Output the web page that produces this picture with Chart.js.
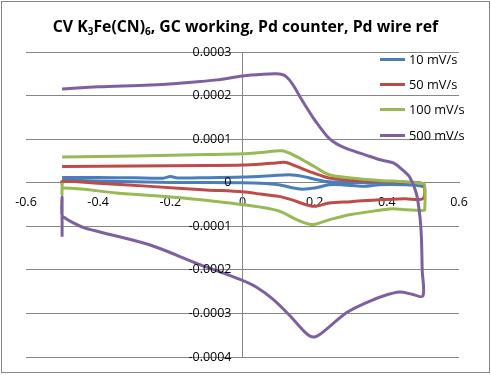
<!DOCTYPE html>
<html>
<head>
<meta charset="utf-8">
<script src="https://cdn.jsdelivr.net/npm/chart.js@4"></script>
<style>
  html, body { margin: 0; padding: 0; background: #fff; }
  #wrap { position: relative; width: 491px; height: 375px; }
  #title {
    position: absolute; left: 0; top: 15px; width: 491px; text-align: center;
    font: bold 15.8px "Open Sans", sans-serif; color: #000; white-space: nowrap;
  }
  #title sub { font-size: 10px; vertical-align: -3px; line-height: 0; }
  #legend { position: absolute; left: 380px; top: 50px; font: 12.8px "Open Sans", sans-serif; color: #000; }
  .item { position: absolute; left: 0; height: 18px; white-space: nowrap; }
  .item i { position: absolute; left: 0; top: 8px; width: 25px; height: 3px; }
  .item span { position: absolute; left: 29px; top: 0; line-height: 18px; }
</style>
</head>
<body>
<div id="wrap">
  <canvas id="cv" width="491" height="375"></canvas>
  <div id="title">CV K<sub>3</sub>Fe(CN)<sub>6</sub>, GC working, Pd counter, Pd wire ref</div>
  <div id="legend"></div>
</div>
<script>
// Series names and colours
const seriesNames = ['10 mV/s', '50 mV/s', '100 mV/s', '500 mV/s'];
const seriesColors = ['#4A7EBB', '#BE4B48', '#98B954', '#7D60A0'];

// 10 mV/s : potential (V) and current (A)
const e10 = [-0.5, -0.4, -0.3, -0.22, -0.2, -0.18, -0.1, 0, 0.08, 0.13, 0.17, 0.2, 0.24, 0.3, 0.38, 0.45, 0.5,
             0.48, 0.45, 0.38, 0.334, 0.28, 0.24, 0.2, 0.16, 0.1, 0.05, 0, -0.2, -0.4, -0.5];
const i10 = [0.0000122, 0.0000118, 0.0000112, 0.0000105, 0.000014, 0.000011, 0.0000115, 0.000013, 0.000016, 0.0000183, 0.000014, 0.000008, 0.000002, 0.0000005, 0, -0.000002, -0.0000084,
             -0.000006, -0.0000046, -0.0000046, -0.0000084, -0.000005, -0.0000046, -0.0000122, -0.0000145, -0.0000046, -0.000001, 0, 0.0000007, 0.000004, 0.0000069];

// 50 mV/s
const e50 = [-0.5, -0.3, -0.1, 0, 0.08, 0.12, 0.15, 0.2, 0.24, 0.3, 0.38, 0.45, 0.5, 0.5,
             0.45, 0.38, 0.3, 0.24, 0.2, 0.17, 0.14, 0.1, 0.05, 0, -0.1, -0.256, -0.4, -0.5, -0.5];
const i50 = [0.0000373, 0.0000385, 0.0000395, 0.0000405, 0.0000445, 0.0000465, 0.0000373, 0.0000215, 0.0000107, 0.0000055, 0.000003, 0.000001, -0.000003, -0.0000366,
             -0.0000366, -0.0000389, -0.0000435, -0.0000465, -0.0000542, -0.000049, -0.00004, -0.0000313, -0.000026, -0.000021, -0.0000165, -0.0000084, -0.000001, 0.000003, -0.000004];

// 100 mV/s
const e100 = [-0.5, -0.3, -0.1, 0, 0.06, 0.11, 0.15, 0.2, 0.24, 0.3, 0.38, 0.45, 0.5, 0.505, 0.505,
              0.5, 0.45, 0.418, 0.38, 0.3, 0.242, 0.192, 0.15, 0.104, 0.05, -0.035, -0.165, -0.349, -0.497, -0.5, -0.5];
const i100 = [0.0000588, 0.0000615, 0.0000645, 0.0000664, 0.00007, 0.0000732, 0.00006, 0.0000365, 0.0000183, 0.000011, 0.0000053, 0.000002, -0.000002, -0.000006, -0.000062,
              -0.000064, -0.000062, -0.0000595, -0.0000633, -0.000073, -0.0000847, -0.0000961, -0.0000847, -0.0000656, -0.000056, -0.0000465, -0.000035, -0.0000236, -0.0000122, -0.0000275, 0];

// 500 mV/s
const e500 = [-0.5, -0.4, -0.256, -0.15, -0.071, 0, 0.057, 0.095, 0.115, 0.13, 0.145, 0.16, 0.178, 0.195, 0.215, 0.233, 0.25, 0.27, 0.298, 0.34, 0.381, 0.418, 0.44, 0.464, 0.482, 0.492, 0.496, 0.498, 0.5,
              0.47, 0.436, 0.39, 0.344, 0.289, 0.233, 0.215, 0.2, 0.187, 0.173, 0.132, 0.085, 0.039, -0.007, -0.118, -0.256, -0.395, -0.44, -0.47, -0.49, -0.5, -0.5, -0.5];
const i500 = [0.000215, 0.00022, 0.000224, 0.00023, 0.000236, 0.000245, 0.000249, 0.00025, 0.000247, 0.000236, 0.000218, 0.000196, 0.000172, 0.00015, 0.000127, 0.000108, 0.000095, 0.000085, 0.0000755, 0.000064, 0.0000526, 0.0000455, 0.000032, 0.000012, -0.000025, -0.00008, -0.00013, -0.0002, -0.00026,
              -0.000256, -0.000251, -0.00026, -0.000275, -0.000298, -0.000336, -0.000348, -0.000354, -0.000352, -0.000343, -0.000306, -0.000268, -0.00024, -0.000222, -0.000188, -0.000143, -0.000113, -0.000103, -0.0000915, -0.000082, -0.000075, -0.000034, -0.000124];

// Axis settings
const xMin = -0.6, xMax = 0.6, xStep = 0.2;
const yMin = -0.0004, yMax = 0.0003, yStep = 0.0001;

const potentials = [e10, e50, e100, e500];
const currents = [i10, i50, i100, i500];
const tickFont = '12.5px "Open Sans"';

function toPoints(xs, ys) {
    return xs.map((x, k) => ({ x: x, y: ys[k] }));
}

// Outer frame + y tick labels placed left of the centred axis
const framePlugin = {
    id: 'frame',
    afterDraw(chart) {
        const ctx = chart.ctx;
        const xs = chart.scales.x, ys = chart.scales.y;
        const axisX = xs.getPixelForValue(0);
        ctx.save();
        ctx.fillStyle = '#000';
        ctx.font = tickFont;
        ctx.textAlign = 'right';
        ctx.textBaseline = 'middle';
        ys.ticks.forEach(t => {
            ctx.fillText(String(+t.value.toFixed(4)), axisX - 11, ys.getPixelForValue(t.value));
        });
        ctx.strokeStyle = '#868686';
        ctx.lineWidth = 1;
        ctx.strokeRect(1.5, 1.5, 488, 371);
        ctx.restore();
    }
};

// later series on top, like the spreadsheet
const datasets = seriesNames.map((name, s) => ({
    label: name,
    data: toPoints(potentials[s], currents[s]),
    borderColor: seriesColors[s],
    backgroundColor: seriesColors[s],
    borderWidth: 3,
    showLine: true,
    pointRadius: 0,
    tension: 0.3,
    order: seriesNames.length - s
}));

new Chart(document.getElementById('cv'), {
    type: 'scatter',
    data: { datasets: datasets },
    options: {
        responsive: false,
        animation: false,
        layout: { padding: { left: 26, right: 32, top: 52, bottom: 18 } },
        plugins: { legend: { display: false }, title: { display: false }, tooltip: { enabled: false } },
        scales: {
            x: {
                type: 'linear', min: xMin, max: xMax,
                position: { y: 0 },
                grid: { display: false, drawTicks: false },
                border: { display: true, color: '#868686', width: 1 },
                ticks: {
                    stepSize: xStep, padding: 12, color: '#000',
                    font: { family: 'Open Sans', size: 12.5 },
                    callback: v => String(+v.toFixed(1))
                }
            },
            y: {
                type: 'linear', min: yMin, max: yMax,
                position: { x: 0 },
                grid: { color: '#868686', lineWidth: 1, drawTicks: false },
                border: { display: true, color: '#868686', width: 1 },
                ticks: { stepSize: yStep, display: false }
            }
        }
    },
    plugins: [framePlugin]
});

// Legend drawn over the plot, as in the original
const legend = document.getElementById('legend');
seriesNames.forEach((name, s) => {
    const row = document.createElement('div');
    row.className = 'item';
    row.style.top = (s * 25.2) + 'px';
    row.innerHTML = `<i style="background:${seriesColors[s]}"></i><span>${name}</span>`;
    legend.appendChild(row);
});
</script>
</body>
</html>
